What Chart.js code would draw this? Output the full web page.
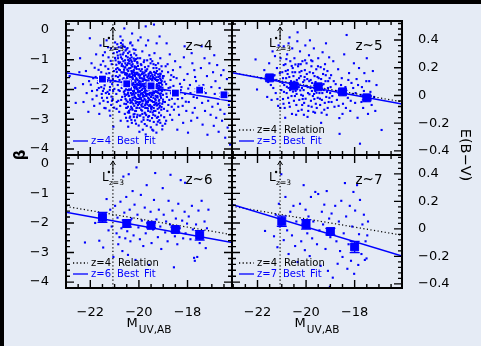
<!DOCTYPE html>
<html>
<head>
<meta charset="utf-8">
<script src="https://cdn.jsdelivr.net/npm/chart.js@4.4.1/dist/chart.umd.min.js"></script>
<style>
  html, body { margin: 0; padding: 0; width: 481px; height: 346px; overflow: hidden; background: #000; }
  #bg { position: absolute; left: 4px; top: 4px; width: 477px; height: 342px; background: #e5ebf5; }
  canvas { position: absolute; left: 0; top: 0; }
</style>
</head>
<body>
<div id="bg"></div>
<canvas id="c4" width="481" height="346"></canvas>
<canvas id="c5" width="481" height="346"></canvas>
<canvas id="c6" width="481" height="346"></canvas>
<canvas id="c7" width="481" height="346"></canvas>
<script>
// ---- axis ticks and conversions ----
const xTickValues = [-22, -20, -18];
const betaTickValues = [0, -1, -2, -3, -4];
const ebvTickValues = [0.4, 0.2, 0, -0.2, -0.4];
const betaRange = [-4.2, 0.3];
const ebvZero = -2.2;     // beta where E(B-V) = 0
const ebvSlope = 4.65;    // d(beta) / d E(B-V)
const lstarZ3 = -21.07;   // L* at z=3 in M_UV

// ---- best-fit relations: [beta at M=-19.5, slope dbeta/dM] ----
const fit_z4 = [-1.93, -0.14];
const fit_z5 = [-1.97, -0.15];
const fit_z6 = [-2.16, -0.15];
const fit_z7 = [-2.26, -0.25];

// ---- binned means ----
const binM_z4 = [-21.5, -20.5, -19.5, -18.5, -17.5, -16.5];
const binBeta_z4 = [-1.65, -1.81, -1.88, -2.12, -2.02, -2.18];
const binErr_z4 = [0.05, 0.04, 0.03, 0.03, 0.05, 0.06];

const binM_z5 = [-21.5, -20.5, -19.5, -18.5, -17.5];
const binBeta_z5 = [-1.61, -1.88, -1.91, -2.08, -2.28];
const binErr_z5 = [0.06, 0.05, 0.05, 0.05, 0.07];

const binM_z6 = [-21.5, -20.5, -19.5, -18.5, -17.5];
const binBeta_z6 = [-1.81, -2.02, -2.08, -2.22, -2.42];
const binErr_z6 = [0.17, 0.12, 0.08, 0.08, 0.16];

const binM_z7 = [-21.0, -20.0, -19.0, -18.0];
const binBeta_z7 = [-1.94, -2.05, -2.29, -2.81];
const binErr_z7 = [0.17, 0.16, 0.11, 0.19];

// ---- individual galaxies [M_UV, beta] ----
const pts_z4 = [
[-22.85,-1.55],[-22.6,-2.45],[-22.42,-0.95],[-22.3,-1.82],[-22.15,-2.12],[-22.02,-0.28],[-21.95,-1.12],[-21.88,-1.62],[-21.84,-2.55],[-21.76,-0.82],[-21.72,-2.02],[-21.66,-1.34],[-21.63,-2.82],
[-21.58,-0.52],[-21.55,-1.92],[-21.52,-2.28],[-21.47,-1.05],[-21.45,-1.58],[-21.42,-2.62],[-21.38,-1.22],[-21.36,-2.12],[-21.33,-0.35],[-21.3,-1.72],[-21.28,-2.42],[-21.25,-0.92],[-21.22,-1.45],[-21.2,-2.02],[-21.18,-2.88],[-21.15,-0.62],[-21.12,-1.15],[-21.1,-1.82],[-21.08,-2.32],[-21.05,-3.25],[-21.03,-1.38],[-21.01,-1.98],[-21.36,-1.75],[-21.48,-2.05],[-21.24,-1.62],[-21.14,-2.52],[-21.55,-1.42],[-21.4,-0.75],
[-20.98,-0.42],[-20.96,-1.02],[-20.95,-1.55],[-20.93,-2.15],[-20.92,-2.65],[-20.9,-0.75],[-20.88,-1.28],[-20.87,-1.85],[-20.85,-2.38],[-20.83,-0.58],[-20.82,-1.12],[-20.8,-1.68],[-20.79,-2.05],[-20.77,-2.55],[-20.75,-3.05],[-20.74,-0.92],[-20.72,-1.42],[-20.71,-1.95],[-20.69,-2.25],[-20.67,-0.35],[-20.66,-0.82],[-20.65,-1.22],[-20.63,-1.62],[-20.62,-2.08],[-20.6,-2.48],[-20.58,-2.82],[-20.57,-1.02],[-20.55,-1.45],[-20.54,-1.78],[-20.52,-2.18],[-20.51,-0.65],[-20.5,-2.62],[-20.94,-1.32],[-20.86,-0.95],[-20.78,-1.35],[-20.7,-1.15],[-20.64,-0.55],[-20.56,-1.25],[-20.91,-2.42],[-20.84,-2.02],[-20.68,-1.75],[-20.53,-1.98],[-20.76,-0.22],[-20.6,0.05],[-20.97,-1.72],[-20.81,-2.75],[-20.73,-2.35],[-20.59,-2.15],
[-20.49,-1.18],[-20.48,-1.62],[-20.47,-2.02],[-20.46,-2.42],[-20.45,-0.78],[-20.44,-1.38],[-20.43,-1.88],[-20.42,-2.22],[-20.41,-2.72],[-20.4,-1.05],[-20.39,-1.52],[-20.38,-1.95],[-20.37,-2.35],[-20.36,-0.45],[-20.35,-1.28],[-20.34,-1.72],[-20.33,-2.12],[-20.32,-2.58],[-20.31,-3.02],[-20.3,-0.92],[-20.29,-1.45],[-20.28,-1.82],[-20.27,-2.28],[-20.26,-1.15],[-20.25,-1.65],[-20.24,-2.05],[-20.23,-2.48],[-20.22,-0.65],[-20.21,-1.35],[-20.2,-1.92],[-20.19,-2.18],[-20.18,-2.82],[-20.17,-1.02],[-20.16,-1.55],[-20.15,-2.38],[-20.14,-1.75],[-20.13,-2.12],[-20.12,-1.25],[-20.11,-0.85],[-20.1,-2.62],[-20.09,-1.48],[-20.08,-1.98],[-20.07,-2.32],[-20.06,-1.12],[-20.05,-1.68],[-20.04,-2.52],[-20.03,-0.35],[-20.02,-1.85],[-20.01,-2.22],[-20.44,-3.25],[-20.28,-0.12],[-20.12,-3.15],[-20.38,-2.95],[-20.21,-2.92],[-20.06,-2.85],
[-19.99,-1.32],[-19.98,-1.72],[-19.97,-2.08],[-19.96,-2.42],[-19.95,-0.95],[-19.94,-1.52],[-19.93,-1.92],[-19.92,-2.28],[-19.91,-2.68],[-19.9,-1.18],[-19.89,-1.62],[-19.88,-2.02],[-19.87,-2.38],[-19.86,-0.72],[-19.85,-1.42],[-19.84,-1.82],[-19.83,-2.18],[-19.82,-2.58],[-19.81,-3.02],[-19.8,-1.08],[-19.79,-1.55],[-19.78,-1.95],[-19.77,-2.32],[-19.76,-2.78],[-19.75,-1.25],[-19.74,-1.68],[-19.73,-2.12],[-19.72,-2.48],[-19.71,-0.52],[-19.7,-1.38],[-19.69,-1.78],[-19.68,-2.22],[-19.67,-2.62],[-19.66,-1.02],[-19.65,-1.58],[-19.64,-2.02],[-19.63,-2.42],[-19.62,-2.92],[-19.61,-1.22],[-19.6,-1.85],[-19.59,-2.15],[-19.58,-2.55],[-19.57,-0.85],[-19.56,-1.45],[-19.55,-1.98],[-19.54,-2.35],[-19.53,-2.75],[-19.52,-1.12],[-19.51,-1.65],[-19.5,-2.25],[-19.93,-0.25],[-19.72,0.12],[-19.62,-0.35],[-19.84,-3.35],[-19.68,-3.22],[-19.55,-3.05],[-19.97,-2.88],[-19.75,-2.05],[-19.88,-1.32],[-19.6,-1.72],
[-19.49,-1.45],[-19.48,-1.85],[-19.47,-2.18],[-19.46,-2.58],[-19.45,-1.05],[-19.44,-1.62],[-19.43,-2.02],[-19.42,-2.42],[-19.41,-2.85],[-19.4,-1.28],[-19.39,-1.75],[-19.38,-2.12],[-19.37,-2.52],[-19.36,-0.78],[-19.35,-1.52],[-19.34,-1.95],[-19.33,-2.32],[-19.32,-2.72],[-19.31,-1.18],[-19.3,-1.68],[-19.29,-2.08],[-19.28,-2.45],[-19.27,-0.45],[-19.26,-1.38],[-19.25,-1.88],[-19.24,-2.22],[-19.23,-2.65],[-19.22,-3.08],[-19.21,-1.12],[-19.2,-1.58],[-19.19,-1.98],[-19.18,-2.38],[-19.17,-2.78],[-19.16,-1.32],[-19.15,-1.78],[-19.14,-2.15],[-19.13,-2.55],[-19.12,-0.95],[-19.11,-1.48],[-19.1,-1.92],[-19.09,-2.28],[-19.08,-2.68],[-19.07,-1.22],[-19.06,-1.72],[-19.05,-2.05],[-19.04,-2.48],[-19.03,-3.22],[-19.02,-1.62],[-19.01,-2.18],[-19.38,0.18],[-19.15,-0.22],[-19.45,-3.35],[-19.28,-3.45],
[-18.98,-1.55],[-18.95,-2.02],[-18.93,-2.42],[-18.9,-1.22],[-18.88,-1.82],[-18.85,-2.25],[-18.83,-2.72],[-18.8,-1.42],[-18.78,-1.95],[-18.75,-2.35],[-18.73,-0.82],[-18.7,-1.68],[-18.68,-2.12],[-18.65,-2.58],[-18.63,-3.02],[-18.6,-1.35],[-18.58,-1.88],[-18.55,-2.22],[-18.53,-2.48],[-18.51,-1.05],[-18.92,-3.15],[-18.72,-2.85],[-18.86,-0.45],[-18.62,-2.02],[-18.97,-2.65],[-18.82,-1.15],[-18.67,-1.52],[-18.56,-2.68],
[-18.45,-1.62],[-18.4,-2.32],[-18.35,-2.85],[-18.3,-1.25],[-18.25,-1.92],[-18.2,-2.55],[-18.15,-0.92],[-18.1,-2.15],[-18.05,-2.72],[-18.0,-1.48],[-17.95,-2.42],[-17.9,-1.85],[-17.85,-3.05],[-17.8,-1.12],[-17.75,-2.25],[-17.7,-2.62],[-17.65,-1.72],[-17.6,-2.95],[-17.55,-2.08],[-18.42,-3.35],[-18.12,-0.55],[-17.98,-3.45],[-18.28,-2.02],[-17.72,-1.35],
[-17.45,-1.28],[-17.4,-2.45],[-17.38,-3.18],[-17.35,-1.85],[-17.3,-0.95],[-17.28,-2.72],[-17.25,-2.12],[-17.2,-1.55],[-17.18,-3.52],[-17.15,-2.38],[-17.1,-1.12],[-17.05,-2.85],[-17.02,-1.92],[-16.98,-2.58],[-16.95,-1.42],[-16.92,-3.22],[-16.88,-2.15],[-16.85,-1.72],[-16.82,-2.95],[-16.78,-1.18],[-16.75,-2.48],[-16.72,-3.42],[-16.68,-1.95],[-16.65,-2.68],[-16.62,-1.52],[-16.58,-3.05],[-16.55,-2.25],[-16.52,-1.35],[-16.48,-2.82],[-16.45,-3.62],[-16.42,-2.05],[-16.38,-1.65],[-16.35,-3.28],[-16.3,-2.52],[-16.25,-3.85],[-17.42,-0.55],[-16.9,-0.85],
[-20.62,-1.42],[-20.58,-1.88],[-20.55,-2.32],[-20.48,-1.75],[-20.46,-2.15],[-20.43,-1.55],[-20.41,-2.02],[-20.37,-1.68],[-20.35,-2.45],[-20.33,-1.95],[-20.31,-1.38],[-20.29,-2.18],[-20.27,-1.58],[-20.25,-2.35],[-20.23,-1.78],[-20.2,-2.05],[-20.18,-1.45],[-20.16,-2.25],[-20.14,-1.92],[-20.11,-1.62],[-20.09,-2.42],[-20.07,-1.82],[-20.04,-2.08],[-20.02,-1.52],[-20.0,-2.32],[-19.98,-1.95],[-19.96,-1.62],[-19.94,-2.18],[-19.92,-1.82],[-19.9,-2.52],[-19.88,-1.48],[-19.86,-2.12],[-19.84,-1.72],[-19.82,-2.38],[-19.8,-1.88],[-19.78,-1.62],[-19.76,-2.22],[-19.74,-1.98],[-19.72,-1.52],[-19.7,-2.42],[-19.68,-1.92],[-19.66,-2.15],[-19.64,-1.72],[-19.62,-2.28],[-19.6,-1.48],[-19.58,-2.02],[-19.56,-1.82],[-19.54,-2.52],[-19.52,-1.55],[-19.5,-1.92],[-19.48,-2.38],[-19.46,-1.72],[-19.44,-2.12],[-19.42,-1.58],[-19.4,-2.28],[-19.38,-1.92],[-19.36,-2.42],[-19.34,-1.65],[-19.32,-2.05],[-19.3,-1.45],[-19.28,-2.25],[-19.26,-1.82],[-19.24,-2.52],[-19.22,-1.68],[-19.2,-2.12],[-19.18,-1.78],[-19.16,-2.35],[-19.14,-1.55],[-19.12,-2.02],[-19.1,-1.68],[-20.52,-2.62],[-20.4,-2.78],[-20.26,-2.68],[-20.12,-2.72],[-19.98,-2.62],[-19.86,-2.82],[-19.74,-2.62],[-19.62,-2.72],[-19.5,-2.62],[-19.38,-2.72],[-19.26,-2.95],[-20.45,-1.12],[-20.32,-1.02],[-20.18,-1.22],[-20.05,-0.95],[-19.92,-1.15],[-19.78,-1.02],[-19.66,-1.32],[-19.52,-0.98],[-19.4,-1.15],[-19.28,-1.28],
[-20.97,-0.63],[-20.91,-1.41],[-20.89,-0.48],[-20.84,-1.07],[-20.81,-0.71],[-20.79,-1.53],[-20.74,-0.44],[-20.71,-1.21],[-20.69,-0.97],[-20.66,-1.66],[-20.63,-0.76],[-20.61,-1.34],[-20.58,-0.57],[-20.56,-1.12],[-20.53,-0.88],[-20.49,-1.47],[-20.47,-0.61],[-20.44,-1.01],[-20.41,-1.29],[-20.39,-0.73],[-20.36,-1.58],[-20.33,-0.84],[-20.31,-1.19],[-20.27,-0.52],[-20.24,-1.39],[-20.21,-0.96],[-20.17,-1.27],[-20.14,-0.67],[-20.11,-1.44],[-20.07,-1.08],[-20.93,-1.17],[-20.87,-0.86],[-20.82,-1.33],[-20.77,-1.09],[-20.73,-0.59],[-20.68,-1.43],[-20.64,-1.05],[-20.59,-1.27],[-20.55,-0.69],[-20.51,-1.18],[-20.46,-0.92],[-20.42,-1.54],[-20.38,-1.13],[-20.34,-0.42],[-20.29,-1.07],[-20.26,-1.62],[-20.19,-0.79],[-20.16,-1.51],[-20.12,-0.98],[-20.09,-1.31],[-20.98,-0.94],[-20.86,-1.58],[-20.76,-0.83],[-20.67,-0.49],[-20.57,-1.49],[-20.48,-1.33],[-20.37,-0.96],[-20.28,-1.23],[-20.18,-1.04],[-20.04,-1.21],
[-20.58,-2.04],[-20.54,-1.67],[-20.51,-2.37],[-20.47,-1.91],[-20.45,-2.58],[-20.43,-1.73],[-20.4,-2.21],[-20.38,-1.49],[-20.35,-2.67],[-20.33,-2.01],[-20.31,-1.58],[-20.29,-2.43],[-20.26,-1.86],[-20.24,-2.14],[-20.22,-1.41],[-20.19,-2.55],[-20.17,-1.97],[-20.15,-1.69],[-20.13,-2.29],[-20.1,-1.83],[-20.08,-2.61],[-20.06,-1.44],[-20.03,-2.17],[-20.01,-1.76],[-19.99,-2.48],[-19.97,-1.57],[-19.95,-2.05],[-19.93,-1.38],[-19.91,-2.33],[-19.89,-1.88],[-19.87,-2.71],[-19.85,-1.64],[-19.83,-2.24],[-19.81,-1.47],[-19.79,-2.09],[-19.77,-1.81],[-19.75,-2.53],[-19.73,-1.36],[-19.71,-2.16],[-19.69,-1.69],[-19.67,-2.44],[-19.65,-1.93],[-19.63,-2.64],[-19.61,-1.54],[-19.59,-2.31],[-19.57,-1.77],[-19.55,-2.12],[-19.53,-1.41],[-19.51,-2.57],[-19.49,-1.95],[-19.47,-2.39],[-19.45,-1.51],[-19.43,-2.19],[-19.41,-1.83],[-19.39,-2.62],[-19.37,-1.62],[-19.35,-2.07],[-19.33,-1.44],[-19.31,-2.36],[-19.29,-1.91],[-19.27,-2.54],[-19.25,-1.71],[-19.23,-2.27],[-19.21,-1.49],[-19.19,-2.03],[-19.17,-1.86],[-19.15,-2.46],[-19.13,-1.63],[-19.11,-2.22],[-19.09,-1.78],[-19.07,-2.59],[-19.05,-1.39],[-19.03,-1.94],[-19.01,-2.34],
[-20.565,-1.83],[-20.525,-2.49],[-20.485,-1.59],[-20.445,-2.11],[-20.405,-1.96],[-20.365,-2.33],[-20.325,-1.71],[-20.285,-2.63],[-20.245,-1.52],[-20.205,-2.27],[-20.165,-1.89],[-20.125,-2.46],[-20.085,-1.66],[-20.045,-2.02],[-20.005,-1.49],[-19.965,-2.26],[-19.925,-1.74],[-19.885,-2.57],[-19.845,-1.97],[-19.805,-2.23],[-19.765,-1.43],[-19.725,-2.36],[-19.685,-1.86],[-19.645,-2.51],[-19.605,-1.64],[-19.565,-2.19],[-19.525,-1.79],[-19.485,-2.67],[-19.445,-1.68],[-19.405,-2.06],[-19.365,-1.88],[-19.325,-2.49],[-19.285,-1.59],[-19.245,-2.09],[-19.205,-1.93],[-19.165,-2.61],[-19.125,-1.47],[-19.085,-2.13],[-19.045,-1.84],[-19.005,-2.41],
[-20.575,-2.23],[-20.515,-1.51],[-20.455,-2.77],[-20.395,-1.82],[-20.335,-2.38],[-20.275,-1.47],[-20.215,-2.11],[-20.155,-2.72],[-20.095,-1.92],[-20.035,-2.43],[-19.975,-1.81],[-19.915,-2.14],[-19.855,-2.47],[-19.795,-1.67],[-19.735,-2.81],[-19.675,-2.04],[-19.615,-2.38],[-19.555,-1.62],[-19.495,-2.11],[-19.435,-2.77],[-19.375,-1.41],[-19.315,-2.21],[-19.255,-2.07],[-19.195,-2.49],[-19.135,-1.91],[-19.075,-2.02],[-19.015,-1.55],
[-20.36,-2.91],[-20.29,-3.12],[-20.22,-2.84],[-20.16,-3.04],[-20.08,-2.93],[-20.01,-3.21],[-19.94,-2.87],[-19.89,-3.08],[-19.81,-2.94],[-19.76,-3.16],[-19.7,-2.86],[-19.64,-3.02],[-19.58,-2.89],[-19.51,-3.27],[-19.46,-2.96],[-19.39,-3.09],[-19.33,-2.88],[-19.27,-3.18],[-19.21,-2.92],[-19.16,-3.03],[-19.09,-2.87],[-19.04,-3.34],[-19.98,-3.42],[-19.72,-3.51],[-19.41,-3.38],[-20.47,-3.06],[-20.53,-2.95],[-19.12,-3.12],[-18.96,-2.93],[-18.88,-3.05],
[-22.28,-2.42],[-22.18,-1.38],[-22.08,-2.75],[-21.98,-1.84],[-21.91,-2.33],[-21.82,-1.27],[-21.74,-2.21],[-21.69,-1.78],[-21.61,-2.47],[-21.57,-1.17],[-21.51,-1.68],[-21.46,-2.38],[-21.41,-1.86],[-21.37,-2.63],[-21.34,-1.47],[-21.29,-2.08],[-21.26,-1.31],[-21.21,-2.71],[-21.17,-1.74],[-21.13,-2.24],[-21.09,-1.56],[-21.06,-2.05],[-21.02,-2.61],[-21.44,-1.97],[-21.31,-2.28],[-21.19,-1.92],[-21.07,-1.66],[-21.53,-2.15],[-21.23,-2.15],[-21.11,-2.38],[-21.65,-1.95],[-21.78,-1.58],[-21.93,-2.05],[-22.05,-1.72],[-21.48,-0.85],[-21.27,-0.58],[-21.16,-1.04],[-21.04,-0.78],[-22.45,-1.42],[-22.62,-1.95],
[-18.94,-1.74],[-18.87,-2.14],[-18.79,-2.52],[-18.71,-1.93],[-18.64,-2.31],[-18.57,-1.58],[-18.49,-2.04],[-18.38,-2.58],[-18.31,-1.81],[-18.22,-2.29],[-18.14,-1.68],[-18.07,-2.41],[-17.97,-1.97],[-17.88,-2.12],[-17.79,-2.78],[-17.69,-1.58],[-17.61,-2.28],[-17.52,-1.88],[-18.18,-3.12],[-17.83,-0.78]
];

const pts_z5 = [
[-22.08,-0.99],[-22.02,-2.0],[-21.85,-1.62],[-21.72,-1.35],[-21.6,-2.25],[-21.52,-1.12],[-21.45,-1.85],[-21.38,-0.72],[-21.3,-1.52],[-21.25,-2.12],[-21.2,-1.28],[-21.15,-2.55],[-21.1,-1.72],[-21.05,-0.95],[-21.02,-2.02],
[-20.98,-1.42],[-20.95,-2.32],[-20.92,-0.55],[-20.9,-1.85],[-20.88,-2.62],[-20.85,-1.15],[-20.82,-1.62],[-20.8,-2.12],[-20.78,-0.82],[-20.75,-1.35],[-20.72,-1.95],[-20.7,-2.45],[-20.68,-0.25],[-20.65,-1.05],[-20.62,-1.72],[-20.6,-2.22],[-20.58,-2.82],[-20.55,-1.28],[-20.53,-1.88],[-20.5,-2.38],[-20.95,-1.62],[-20.86,-2.95],[-20.76,-1.48],[-20.66,-2.02],[-20.57,-0.62],[-20.52,-1.55],[-20.92,-1.18],[-20.72,-0.45],
[-20.48,-0.95],[-20.45,-1.42],[-20.43,-2.05],[-20.4,-2.52],[-20.38,-1.68],[-20.35,-0.08],[-20.33,-1.22],[-20.3,-1.92],[-20.28,-2.35],[-20.25,-0.72],[-20.22,-1.55],[-20.2,-2.18],[-20.18,-2.68],[-20.15,-1.05],[-20.12,-1.75],[-20.1,-2.02],[-20.08,-2.45],[-20.05,-1.35],[-20.03,-0.52],[-20.01,-1.88],[-20.42,-1.78],[-20.32,-2.72],[-20.22,-1.15],[-20.14,-2.32],[-20.06,-1.58],[-20.36,-0.38],[-20.27,-1.42],[-20.17,-1.95],[-20.09,-2.85],[-20.46,-2.22],
[-19.98,-1.12],[-19.95,-1.65],[-19.92,-2.12],[-19.9,-2.55],[-19.88,-0.85],[-19.85,-1.42],[-19.82,-1.95],[-19.8,-2.38],[-19.78,-1.22],[-19.75,-1.78],[-19.72,-2.22],[-19.7,-2.75],[-19.68,-0.62],[-19.65,-1.55],[-19.62,-2.05],[-19.6,-2.48],[-19.58,-1.32],[-19.55,-1.88],[-19.52,-2.28],[-19.5,-0.95],[-19.94,-2.92],[-19.84,-0.35],[-19.74,-1.05],[-19.64,-1.82],[-19.56,-2.62],[-19.87,-1.72],[-19.77,-2.58],[-19.67,-2.15],
[-19.48,-1.62],[-19.45,-2.12],[-19.42,-2.52],[-19.4,-1.25],[-19.37,-1.85],[-19.35,-2.35],[-19.32,-0.75],[-19.3,-1.48],[-19.27,-2.02],[-19.25,-2.68],[-19.22,-1.15],[-19.2,-1.72],[-19.17,-2.25],[-19.15,-2.85],[-19.12,-1.38],[-19.1,-1.95],[-19.07,-2.42],[-19.05,-0.92],[-19.03,-1.62],[-19.01,-2.12],[-19.38,-3.12],[-19.18,-0.45],
[-18.97,-1.52],[-18.92,-2.22],[-18.88,-1.05],[-18.83,-2.58],[-18.78,-1.82],[-18.73,-2.35],[-18.68,-1.32],[-18.63,-2.96],[-18.62,-3.49],[-18.58,-2.05],[-18.53,-1.62],[-18.48,-2.48],[-18.43,-0.82],[-18.38,-1.92],[-18.33,-0.17],[-18.28,-2.28],[-18.23,-1.45],[-18.18,-2.72],[-18.13,-1.78],[-18.08,-2.15],[-18.03,-1.12],[-18.5,-2.82],
[-17.98,-2.45],[-17.92,-1.65],[-17.88,-2.95],[-17.82,-1.28],[-17.78,-3.82],[-17.75,-2.18],[-17.7,-1.92],[-17.65,-2.62],[-17.6,-1.45],[-17.55,-2.38],[-17.5,-0.95],[-17.45,-2.82],[-17.4,-1.72],[-17.35,-2.08],[-17.3,-2.52],[-17.25,-1.38],[-17.2,-2.25],[-17.15,-2.72],[-17.1,-1.85],[-16.89,-3.36],
[-20.97,-1.78],[-20.91,-2.08],[-20.84,-1.38],[-20.79,-1.91],[-20.74,-2.28],[-20.69,-1.58],[-20.63,-1.97],[-20.59,-1.21],[-20.54,-2.07],[-20.49,-1.74],[-20.44,-1.16],[-20.39,-2.15],[-20.34,-1.81],[-20.29,-1.62],[-20.24,-2.03],[-20.19,-1.38],[-20.13,-2.21],[-20.07,-1.69],[-20.02,-2.31],[-19.97,-1.48],[-19.93,-1.92],[-19.86,-2.16],[-19.81,-1.68],[-19.76,-2.05],[-19.71,-1.45],[-19.66,-2.32],[-19.61,-1.75],[-19.57,-2.11],[-19.53,-1.58],[-19.47,-1.96],[-19.43,-2.31],[-19.38,-1.65],[-19.33,-2.12],[-19.28,-1.82],[-19.23,-2.45],[-19.19,-1.52],[-19.14,-2.08],[-19.09,-1.72],[-19.04,-2.28],[-18.99,-1.92],[-20.93,-2.48],[-20.81,-0.98],[-20.67,-2.58],[-20.56,-1.42],[-20.41,-2.85],[-20.31,-1.15],[-20.16,-2.52],[-20.04,-1.02],[-19.91,-2.72],[-19.79,-1.02],[-19.63,-2.78],[-19.51,-1.22],[-19.36,-2.78],[-19.26,-1.32],[-19.11,-2.62],[-18.95,-2.42],[-18.86,-1.72],[-18.76,-2.05],[-18.66,-2.55],[-18.56,-1.85],[-18.46,-2.18],[-18.36,-2.62],[-18.26,-1.68],[-18.16,-2.38],[-18.06,-1.95],[-17.96,-2.12],[-17.86,-1.85],[-17.72,-2.42],[-17.62,-2.05],[-17.52,-1.72],
[-21.48,-1.58],[-21.35,-1.95],[-21.22,-1.68],[-21.08,-1.45],[-21.28,-0.88],[-21.56,-1.75],[-21.42,-2.35],[-21.18,-2.32],[-21.06,-2.62],[-21.13,-0.52]
];

const pts_z6 = [
[-22.22,-2.66],[-21.8,-2.0],[-21.63,-2.6],[-21.47,-2.83],[-21.42,-1.72],[-21.33,-1.19],[-21.25,-2.25],[-21.18,-1.55],[-21.12,-2.12],[-21.05,-3.15],
[-20.98,-1.42],[-20.92,-2.35],[-20.88,-1.82],[-20.85,-2.72],[-20.8,-2.48],[-20.76,-1.28],[-20.72,-2.18],[-20.68,-2.95],[-20.64,-0.43],[-20.6,-1.65],[-20.56,-2.52],[-20.52,-1.12],[-20.48,-2.28],[-20.45,-3.08],[-20.42,-0.35],[-20.38,-1.55],[-20.35,-2.62],[-20.3,-1.85],[-20.26,-0.92],[-20.22,-2.42],[-20.18,-1.38],[-20.14,-3.25],[-20.1,-0.12],[-20.06,-1.72],[-20.02,-2.15],
[-19.96,-2.55],[-19.92,-1.05],[-19.88,-1.92],[-19.82,-2.78],[-19.76,-1.48],[-19.72,-2.35],[-19.68,-0.72],[-19.62,-2.05],[-19.58,-3.42],[-19.52,-1.62],[-19.48,-2.68],[-19.42,-2.22],[-19.38,-1.22],[-19.33,-0.31],[-19.28,-1.88],[-19.22,-2.48],[-19.18,-1.55],[-19.12,-2.12],[-19.08,-2.88],[-19.02,-0.82],
[-18.98,-1.72],[-18.92,-2.32],[-18.88,-1.95],[-18.82,-2.62],[-18.78,-1.25],[-18.72,-2.05],[-18.7,-0.37],[-18.62,-1.58],[-18.56,-3.5],[-18.52,-2.45],[-18.48,-1.85],[-18.42,-2.72],[-18.38,-1.35],[-18.32,-2.18],[-18.28,-0.55],[-18.22,-1.92],[-18.18,-2.52],[-18.12,-1.62],[-18.1,-0.64],[-18.08,-2.35],[-18.02,-2.02],
[-17.95,-1.78],[-17.88,-2.55],[-17.82,-1.42],[-17.78,-2.22],[-17.73,-3.18],[-17.7,-3.28],[-17.65,-2.05],[-17.6,-3.15],[-17.55,-1.58],[-17.5,-2.68],[-17.42,-1.25],[-17.38,-2.42],[-17.3,-1.95],[-17.25,-2.85],[-17.14,-1.55],[-17.2,-2.18]
];

const pts_z7 = [
[-21.69,-2.27],[-21.32,-2.45],[-21.25,-1.72],[-21.18,-2.82],[-21.12,-1.35],[-21.08,-2.12],[-21.02,-0.35],[-20.98,-1.85],[-20.92,-2.58],[-20.85,-1.12],[-20.78,-2.25],[-20.72,-3.05],[-20.65,-1.62],[-20.58,-2.42],[-20.52,-1.42],[-20.45,-2.78],[-20.4,-1.95],[-20.35,-3.32],[-20.25,-1.35],[-20.2,-2.62],[-20.15,-2.05],[-20.1,-0.72],[-20.05,-2.92],[-20.02,-1.55],
[-19.95,-2.35],[-19.9,-1.78],[-19.85,-3.12],[-19.8,-1.12],[-19.75,-2.52],[-19.7,-1.95],[-19.62,-0.95],[-19.55,-2.72],[-19.5,-1.02],[-19.45,-2.25],[-19.4,-3.45],[-19.35,-1.62],[-19.3,-2.05],[-19.25,-1.38],[-19.2,-2.88],[-19.15,-0.92],[-19.1,-3.62],[-19.05,-1.85],[-19.02,-4.16],[-19.0,-2.48],
[-18.95,-1.68],[-18.9,-3.85],[-18.85,-2.18],[-18.8,-1.42],[-18.75,-2.62],[-18.7,-3.38],[-18.65,-1.95],[-18.6,-2.95],[-18.55,-1.25],[-18.5,-3.15],[-18.45,-2.35],[-18.4,-0.65],[-18.35,-1.78],[-18.3,-3.55],[-18.25,-2.72],[-18.2,-1.42],[-18.15,-3.28],[-18.1,-2.12],[-18.05,-0.95],[-18.02,-3.72],
[-17.98,-1.58],[-17.95,-2.88],[-17.9,-0.72],[-17.85,-3.42],[-17.82,-2.38],[-17.78,-1.22],[-17.72,-3.05],[-17.68,-2.05],[-17.62,-1.72],[-17.58,-3.25],[-17.51,-3.2],[-17.55,-2.62],[-17.48,-2.42],[-17.45,-1.95]
];

// ---- drawing ----
const FONT = "'DejaVu Sans', 'Liberation Sans', sans-serif";
const BLUE = '#0000ff';
Chart.defaults.font.family = FONT;
Chart.defaults.color = '#000';

const minus = v => (v < 0 ? '\u2212' : '') + Math.abs(v);

function fitLine(fit, xr) {
  return xr.map(m => ({ x: m, y: fit[0] + fit[1] * (m + 19.5) }));
}

function drawErrorBars(chart, p) {
  const { ctx } = chart, xs = chart.scales.x, ys = chart.scales.y;
  ctx.save();
  ctx.strokeStyle = BLUE;
  ctx.lineWidth = 1.3;
  ctx.beginPath();
  p.binM.forEach((m, i) => {
    const x = xs.getPixelForValue(m);
    const yHi = ys.getPixelForValue(p.binB[i] + p.binE[i]);
    const yLo = ys.getPixelForValue(p.binB[i] - p.binE[i]);
    ctx.moveTo(x, yHi); ctx.lineTo(x, yLo);
    ctx.moveTo(x - 5, yHi); ctx.lineTo(x + 5, yHi);
    ctx.moveTo(x - 5, yLo); ctx.lineTo(x + 5, yLo);
  });
  ctx.stroke();
  ctx.restore();
}

function drawFrame(chart, p) {
  const { ctx, chartArea: a } = chart;
  const xs = chart.scales.x, ys = chart.scales.y, e = chart.scales.y2;
  ctx.save();
  ctx.strokeStyle = '#000';
  ctx.lineWidth = 1.4;
  ctx.beginPath();
  // magnitude ticks every 0.5, long ones at the labelled values
  for (let k = Math.ceil(xs.min * 2); k <= Math.floor(xs.max * 2); k++) {
    const x = xs.getPixelForValue(k / 2);
    const len = (k % 4 === 0) ? 8 : 4;
    ctx.moveTo(x, a.bottom); ctx.lineTo(x, a.bottom - len);
    ctx.moveTo(x, a.top); ctx.lineTo(x, a.top + len);
  }
  // beta ticks every 0.2, long at integers
  for (let k = Math.ceil(ys.min * 5); k <= Math.floor(ys.max * 5); k++) {
    const y = ys.getPixelForValue(k / 5);
    const len = (k % 5 === 0) ? 8 : 4;
    ctx.moveTo(a.left, y); ctx.lineTo(a.left + len, y);
    if (!p.rightAxis) { ctx.moveTo(a.right, y); ctx.lineTo(a.right - len, y); }
  }
  // E(B-V) ticks every 0.04 on the right-hand panels
  if (p.rightAxis) {
    for (let k = Math.ceil(e.min * 25); k <= Math.floor(e.max * 25); k++) {
      const y = e.getPixelForValue(k / 25);
      const len = (k % 5 === 0) ? 8 : 4;
      ctx.moveTo(a.right, y); ctx.lineTo(a.right - len, y);
    }
  }
  ctx.stroke();
  ctx.lineWidth = 2;
  ctx.strokeRect(a.left, a.top, a.right - a.left, a.bottom - a.top);
  ctx.restore();
}

function drawNotes(chart, p) {
  const { ctx, chartArea: a } = chart;
  const xL = chart.scales.x.getPixelForValue(lstarZ3);
  ctx.save();
  ctx.fillStyle = '#000';
  ctx.textBaseline = 'alphabetic';

  // redshift label
  ctx.font = `13.5px ${FONT}`;
  ctx.textAlign = 'center';
  ctx.fillText(p.label, a.right - 33, a.top + 29);

  // L* (z=3) marker with arrow
  ctx.textAlign = 'left';
  ctx.font = `12px ${FONT}`;
  ctx.fillText('L', xL - 11, a.top + 26);
  ctx.font = `7.5px ${FONT}`;
  ctx.fillText('z=3', xL - 4, a.top + 29.5);
  ctx.beginPath();
  ctx.arc(xL - 4, a.top + 17, 1.2, 0, Math.PI * 2);
  ctx.fill();
  ctx.strokeStyle = '#000';
  ctx.lineWidth = 1;
  ctx.beginPath();
  ctx.moveTo(xL, a.top + 19); ctx.lineTo(xL, a.top + 6);
  ctx.moveTo(xL - 2.5, a.top + 10); ctx.lineTo(xL, a.top + 6); ctx.lineTo(xL + 2.5, a.top + 10);
  ctx.stroke();

  // key
  ctx.font = `10px ${FONT}`;
  ctx.textBaseline = 'middle';
  const yFit = a.bottom - 14;
  ctx.strokeStyle = BLUE;
  ctx.lineWidth = 1.3;
  ctx.beginPath(); ctx.moveTo(a.left + 7, yFit); ctx.lineTo(a.left + 22, yFit); ctx.stroke();
  ctx.fillStyle = BLUE;
  ctx.fillText('z=' + p.z, a.left + 25, yFit);
  ctx.fillText('Best', a.left + 51, yFit);
  ctx.fillText('Fit', a.left + 78, yFit);
  if (p.relation) {
    const yRel = a.bottom - 25;
    ctx.strokeStyle = '#000';
    ctx.setLineDash([1.2, 2.4]);
    ctx.beginPath(); ctx.moveTo(a.left + 7, yRel); ctx.lineTo(a.left + 22, yRel); ctx.stroke();
    ctx.setLineDash([]);
    ctx.fillStyle = '#000';
    ctx.fillText('z=4', a.left + 25, yRel);
    ctx.fillText('Relation', a.left + 52, yRel);
  }

  // axis titles
  ctx.fillStyle = '#000';
  if (p.betaTitle) {
    ctx.save();
    ctx.translate(21, 155);
    ctx.rotate(-Math.PI / 2);
    ctx.font = `bold 15px ${FONT}`;
    ctx.textAlign = 'center';
    ctx.textBaseline = 'middle';
    ctx.fillText('\u03B2', 0, 0);
    ctx.restore();
  }
  if (p.ebvTitle) {
    ctx.save();
    ctx.translate(465, 155);
    ctx.rotate(Math.PI / 2);
    ctx.font = `14.5px ${FONT}`;
    ctx.textAlign = 'center';
    ctx.textBaseline = 'middle';
    ctx.fillText('E(B\u2212V)', 0, 0);
    ctx.restore();
  }
  if (p.bottomAxis) {
    ctx.textBaseline = 'alphabetic';
    ctx.textAlign = 'left';
    ctx.font = `13px ${FONT}`;
    const wM = ctx.measureText('M').width;
    ctx.font = `10.5px ${FONT}`;
    const wS = ctx.measureText('UV,AB').width;
    const x0 = (a.left + a.right) / 2 - (wM + 1 + wS) / 2;
    ctx.font = `13px ${FONT}`;
    ctx.fillText('M', x0, 327);
    ctx.font = `10.5px ${FONT}`;
    ctx.fillText('UV,AB', x0 + wM + 1, 333);
  }
  ctx.restore();
}

const panels = [
  { canvas: 'c4', label: 'z~4', z: '4', pts: pts_z4, binM: binM_z4, binB: binBeta_z4, binE: binErr_z4, fit: fit_z4,
    relation: false, edge: '#ffffff', area: { l: 66, t: 21, r: 232, b: 155 }, xr: [-23, -16.17],
    leftAxis: true, rightAxis: false, bottomAxis: false, betaTitle: true, ebvTitle: false },
  { canvas: 'c5', label: 'z~5', z: '5', pts: pts_z5, binM: binM_z5, binB: binBeta_z5, binE: binErr_z5, fit: fit_z5,
    relation: true, edge: BLUE, area: { l: 232, t: 21, r: 402, b: 155 }, xr: [-23.05, -16.05],
    leftAxis: false, rightAxis: true, bottomAxis: false, betaTitle: false, ebvTitle: true },
  { canvas: 'c6', label: 'z~6', z: '6', pts: pts_z6, binM: binM_z6, binB: binBeta_z6, binE: binErr_z6, fit: fit_z6,
    relation: true, edge: BLUE, area: { l: 66, t: 155, r: 232, b: 288 }, xr: [-23, -16.17],
    leftAxis: true, rightAxis: false, bottomAxis: true, betaTitle: false, ebvTitle: false },
  { canvas: 'c7', label: 'z~7', z: '7', pts: pts_z7, binM: binM_z7, binB: binBeta_z7, binE: binErr_z7, fit: fit_z7,
    relation: true, edge: BLUE, area: { l: 232, t: 155, r: 402, b: 288 }, xr: [-23.05, -16.05],
    leftAxis: false, rightAxis: true, bottomAxis: true, betaTitle: false, ebvTitle: false }
];

function buildPanel(p) {
  const yW = p.leftAxis ? 40 : 0;
  const y2W = p.rightAxis ? 50 : 0;
  const xH = p.bottomAxis ? 30 : 0;
  const W = 481, H = 346;
  const padding = {
    left: p.area.l - yW,
    right: W - p.area.r - y2W,
    top: p.area.t,
    bottom: H - p.area.b - xH
  };
  const datasets = [
    { label: 'binned', data: p.binM.map((m, i) => ({ x: m, y: p.binB[i] })),
      pointStyle: 'rect', pointRadius: 5.6, backgroundColor: BLUE, borderColor: p.edge, borderWidth: 1, showLine: false },
    { label: 'best fit', data: fitLine(p.fit, p.xr), showLine: true, borderColor: BLUE, borderWidth: 1.5, pointRadius: 0 }
  ];
  if (p.relation) {
    datasets.push({ label: 'z=4 relation', data: fitLine(fit_z4, p.xr), showLine: true,
      borderColor: '#000', borderWidth: 1.2, borderDash: [1.2, 2.4], pointRadius: 0 });
  }
  datasets.push({ label: 'L* z=3', data: [{ x: lstarZ3, y: betaRange[0] }, { x: lstarZ3, y: betaRange[1] }],
    showLine: true, borderColor: '#000', borderWidth: 1.2, borderDash: [1.2, 2.4], pointRadius: 0 });
  datasets.push({ label: 'galaxies', data: p.pts.map(q => ({ x: q[0], y: q[1] })),
    pointStyle: 'rect', pointRadius: 1.5, backgroundColor: BLUE, borderWidth: 0, showLine: false });

  new Chart(document.getElementById(p.canvas), {
    type: 'scatter',
    data: { datasets },
    options: {
      responsive: false,
      animation: false,
      events: [],
      layout: { padding },
      plugins: { legend: { display: false }, tooltip: { enabled: false } },
      scales: {
        x: {
          type: 'linear', position: 'bottom', min: p.xr[0], max: p.xr[1], display: p.bottomAxis,
          grid: { display: false }, border: { display: false },
          ticks: { font: { size: 13 }, color: '#000', padding: 9, maxRotation: 0, autoSkip: false, callback: minus },
          afterBuildTicks: s => { s.ticks = xTickValues.map(v => ({ value: v })); },
          afterFit: s => { s.height = xH; }
        },
        y: {
          type: 'linear', position: 'left', min: betaRange[0], max: betaRange[1], display: p.leftAxis,
          grid: { display: false }, border: { display: false },
          ticks: { font: { size: 13 }, color: '#000', padding: 9, autoSkip: false, callback: minus },
          afterBuildTicks: s => { s.ticks = betaTickValues.map(v => ({ value: v })); },
          afterFit: s => { s.width = yW; }
        },
        y2: {
          type: 'linear', position: 'right',
          min: (betaRange[0] - ebvZero) / ebvSlope, max: (betaRange[1] - ebvZero) / ebvSlope,
          display: p.rightAxis,
          grid: { display: false }, border: { display: false },
          ticks: { font: { size: 13 }, color: '#000', padding: 8, autoSkip: false, callback: minus },
          afterBuildTicks: s => { s.ticks = ebvTickValues.map(v => ({ value: v })); },
          afterFit: s => { s.width = y2W; }
        }
      }
    },
    plugins: [{
      id: 'panelDecor',
      beforeDatasetDraw(chart, args) { if (args.index === 0) drawErrorBars(chart, p); },
      afterDraw(chart) { drawFrame(chart, p); drawNotes(chart, p); }
    }]
  });
}

panels.forEach(buildPanel);
</script>
</body>
</html>
